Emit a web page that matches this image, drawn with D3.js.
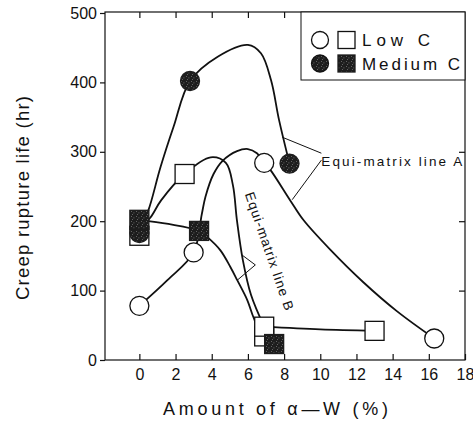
<!DOCTYPE html>
<html><head><meta charset="utf-8">
<script src="https://cdn.jsdelivr.net/npm/d3@7"></script>
<style>
html,body{margin:0;padding:0;background:#fff;}
svg{display:block;}
text{font-family:"Liberation Sans",Arial,sans-serif;fill:#111;}
</style></head>
<body>
<svg id="chart" width="473" height="421"></svg>
<script>
// ---- data ----
const xTicks = [0, 2, 4, 6, 8, 10, 12, 14, 16, 18];
const yTicks = [0, 100, 200, 300, 400, 500];
const rightTicks = [100, 200, 300];

// markers [Amount of α-W (%), rupture life (hr)]
const lowCCircles  = [[0, 78], [3, 155], [6.9, 284], [16.3, 31]];
const lowCSquares  = [[0, 179], [2.5, 268], [6.9, 34], [6.9, 48], [13, 42]];
const medCCircles  = [[0, 183], [2.8, 402], [8.3, 283]];
const medCSquares  = [[0, 202], [3.3, 186], [7.45, 23]];

// hand-drawn curves
const curveMedCircle = [[0.2, 200], [0.5, 216], [1.17, 278], [1.89, 336], [2.8, 402], [4.33, 437], [6.0, 454], [6.72, 442], [7.28, 403], [7.72, 346], [8.3, 283]];
const curveLowSquare = [[0, 190], [0.6, 205], [1.2, 230], [2.5, 268], [3.94, 292], [4.78, 284], [5.17, 252], [5.39, 202], [5.72, 144], [6.17, 94], [6.9, 48]];
const curveLowSquareTail = [[6.9, 48], [10, 44], [13, 42]];
const curveMedSquare = [[0, 202], [1.6, 196], [3.3, 186], [3.76, 177], [4.48, 158], [5.03, 134], [5.41, 115], [5.97, 86], [6.3, 62], [6.7, 40], [7.45, 23]];
const curveLowCircle = [[0, 78], [1.55, 115], [3, 155], [3.45, 210], [3.65, 235], [4.1, 268], [4.6, 287], [5.4, 301], [6.0, 304], [6.5, 298], [6.9, 284], [7.24, 274], [8.34, 230], [9.06, 202], [10.55, 159], [12.38, 112], [14.25, 70], [16.3, 31]];

// annotation pointers
const pointerA = [[[7.9, 321], [10.06, 298]], [[10.06, 288], [8.45, 231]]];
const pointerB = [[[5.69, 151], [6.41, 137]], [[6.41, 137], [5.41, 115]]];
const labelA = "Equi-matrix line A";
const labelB = "Equi-matrix line B";
const xLabel = "Amount of α—W (%)";
const yLabel = "Creep rupture life (hr)";
const legendItems = [{label: "Low C", filled: false}, {label: "Medium C", filled: true}];

// ---- drawing ----
(function () {
const svg = d3.select("#chart");
const x = d3.scaleLinear().domain([-1.9, 18]).range([105, 465]);
const y = d3.scaleLinear().domain([0, 500]).range([360, 13]);
const pTop = y(500) - 1, pBottom = y(0), pLeft = x(-1.9), pRight = x(18);

const defs = svg.append("defs");
const pat = defs.append("pattern").attr("id", "stipple").attr("patternUnits", "userSpaceOnUse")
  .attr("width", 5).attr("height", 5);
pat.append("rect").attr("width", 5).attr("height", 5).attr("fill", "#1d1d1d");
[[1,1],[3.5,2.5],[2,4]].forEach(p => pat.append("rect").attr("x", p[0]).attr("y", p[1]).attr("width", 0.8).attr("height", 0.8).attr("fill", "#8a8a8a"));

// frame
svg.append("rect").attr("x", pLeft).attr("y", pTop).attr("width", pRight - pLeft).attr("height", pBottom - pTop)
  .attr("fill", "none").attr("stroke", "#111").attr("stroke-width", 1.2);

const xa = d3.axisBottom(x).tickValues(xTicks).tickSizeInner(-6).tickSizeOuter(0).tickPadding(9);
const gx = svg.append("g").attr("transform", `translate(0,${pBottom})`).call(xa);
gx.select(".domain").remove();
gx.selectAll("line").attr("stroke", "#111").attr("stroke-width", 1.2);
gx.selectAll("text").attr("font-size", 16).attr("fill", "#111").attr("font-family", "Liberation Sans, Arial, sans-serif");

const xt = d3.axisTop(x).tickValues(xTicks.filter(d => d < 18)).tickSizeInner(-6).tickSizeOuter(0).tickFormat("");
const gxt = svg.append("g").attr("transform", `translate(0,${pTop})`).call(xt);
gxt.select(".domain").remove();
gxt.selectAll("line").attr("stroke", "#111").attr("stroke-width", 1.2);

const ya = d3.axisLeft(y).tickValues(yTicks).tickSizeInner(5).tickSizeOuter(0).tickPadding(3);
const gy = svg.append("g").attr("transform", `translate(${pLeft},0)`).call(ya);
gy.select(".domain").remove();
gy.selectAll("line").attr("stroke", "#111").attr("stroke-width", 1.2);
gy.selectAll("text").attr("font-size", 16).attr("fill", "#111").attr("font-family", "Liberation Sans, Arial, sans-serif");

const yr = d3.axisRight(y).tickValues(rightTicks).tickSizeInner(-6).tickSizeOuter(0).tickFormat("");
const gyr = svg.append("g").attr("transform", `translate(${pRight},0)`).call(yr);
gyr.select(".domain").remove();
gyr.selectAll("line").attr("stroke", "#111").attr("stroke-width", 1.2);

// axis titles
svg.append("text").attr("x", 163).attr("y", 415).attr("font-size", 18)
  .attr("textLength", 225).attr("lengthAdjust", "spacing").text(xLabel);
svg.append("text").attr("transform", "translate(29,300) rotate(-90)").attr("font-size", 18.5)
  .attr("textLength", 204).attr("lengthAdjust", "spacing").text(yLabel);

// curves
const line = d3.line().x(d => x(d[0])).y(d => y(d[1])).curve(d3.curveCatmullRom.alpha(0.5));
const curves = svg.append("g").attr("fill", "none").attr("stroke", "#111").attr("stroke-width", 1.8);
[curveMedCircle, curveLowSquare, curveLowSquareTail, curveMedSquare, curveLowCircle].forEach(c =>
  curves.append("path").attr("d", line(c)));

// pointers
const straight = d3.line().x(d => x(d[0])).y(d => y(d[1]));
const ptr = svg.append("g").attr("fill", "none").attr("stroke", "#111").attr("stroke-width", 1);
pointerA.concat(pointerB).forEach(p => ptr.append("path").attr("d", straight(p)));

// annotation labels
svg.append("text").attr("x", x(10.06)).attr("y", y(279)).attr("font-size", 13.5)
  .attr("textLength", 141).attr("lengthAdjust", "spacing").text(labelA);
svg.append("text").attr("transform", `translate(${x(5.55) + 5},${y(242) + 2}) rotate(71)`).attr("font-size", 13.5)
  .attr("textLength", 124).attr("lengthAdjust", "spacing").text(labelB);

// markers
const R = 9.5, S = 19;
const mk = svg.append("g").attr("stroke-width", 1.3);
function sq(g, d, filled) {
  g.append("rect").attr("x", x(d[0]) - S / 2).attr("y", y(d[1]) - S / 2).attr("width", S).attr("height", S)
    .attr("fill", filled ? "url(#stipple)" : "#fff").attr("stroke", filled ? "#1d1d1d" : "#111");
}
function ci(g, d, filled) {
  g.append("circle").attr("cx", x(d[0])).attr("cy", y(d[1])).attr("r", R)
    .attr("fill", filled ? "url(#stipple)" : "#fff").attr("stroke", filled ? "#1d1d1d" : "#111");
}
lowCCircles.forEach(d => ci(mk, d, false));
lowCSquares.filter(d => d[0] === 0).forEach(d => sq(mk, d, false));
medCCircles.forEach(d => ci(mk, d, true));
lowCSquares.filter(d => d[0] !== 0).forEach(d => sq(mk, d, false));
medCSquares.forEach(d => sq(mk, d, true));

// legend
const lg = svg.append("g");
lg.append("rect").attr("x", 301).attr("y", pTop).attr("width", pRight - 301).attr("height", 80 - pTop)
  .attr("fill", "#fff").attr("stroke", "#111").attr("stroke-width", 1);
legendItems.forEach((it, i) => {
  const cy = 40 + i * 23.5;
  lg.append("circle").attr("cx", 320).attr("cy", cy).attr("r", 8.5)
    .attr("fill", it.filled ? "url(#stipple)" : "#fff").attr("stroke", "#111").attr("stroke-width", 1.3);
  lg.append("rect").attr("x", 338).attr("y", cy - 8.5).attr("width", 17).attr("height", 17)
    .attr("fill", it.filled ? "url(#stipple)" : "#fff").attr("stroke", it.filled ? "#1d1d1d" : "#111").attr("stroke-width", 1.3);
  lg.append("text").attr("x", 362).attr("y", cy + 6).attr("font-size", 17)
    .attr("textLength", i === 0 ? 68 : 98).attr("lengthAdjust", "spacing").text(it.label);
});
})();
</script>
</body></html>
